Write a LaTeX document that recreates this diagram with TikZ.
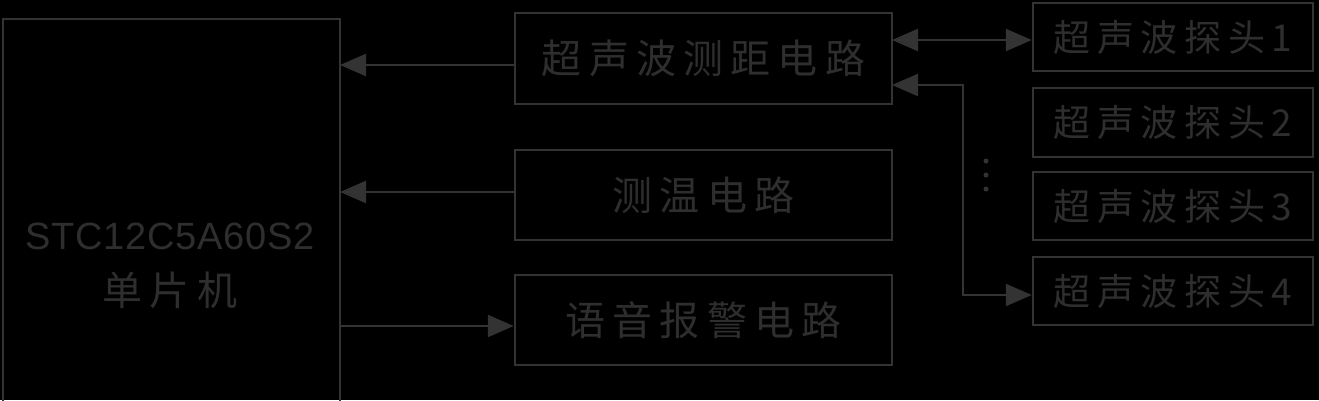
\documentclass[tikz,border=0pt]{standalone}
\usepackage{fontspec}
\newfontfamily\cjk[LetterSpace=18]{Noto Sans CJK SC}
\newfontfamily\lat{Liberation Sans}
\usetikzlibrary{arrows.meta}
\definecolor{ln}{HTML}{333333}
\definecolor{tx}{HTML}{2E2E2E}
\tikzset{box/.style={draw=ln,line width=2.5pt},
 tip/.tip={Triangle[length=26pt,width=22pt]},
 con/.style={draw=ln,line width=2.5pt,-tip},
 lbl/.style={text=tx,font=\cjk\fontsize{40}{42}\selectfont,inner sep=0}}
\begin{document}
\begin{tikzpicture}[x=1pt,y=-1pt]
\fill[black] (0,0) rectangle (1319,400);
\useasboundingbox (0,0) rectangle (1319,400);
\draw[box] (3,420) -- (3,19) -- (340,19) -- (340,420);
\coordinate (mcuR1) at (340,65);
\coordinate (mcuR2) at (340,192);
\coordinate (mcuR3) at (340,326);
\node[text=tx,inner sep=0,font=\lat\fontsize{38}{40}\selectfont\addfontfeature{LetterSpace=2}] (mcu) at (170,236) {STC12C5A60S2};
\node[lbl] (mcu2) at (170,290) {单片机};
\node[box,minimum width=377pt,minimum height=91pt] (us) at (703.5,58.5) {};
\node[lbl] at (us) {超声波测距电路};
\node[box,minimum width=377pt,minimum height=90pt] (tm) at (703.5,195) {};
\node[lbl] at (tm) {测温电路};
\node[box,minimum width=377pt,minimum height=90pt] (vo) at (703.5,320) {};
\node[lbl] at (vo) {语音报警电路};
\foreach \n/\y/\h in {1/37/68,2/122.5/69,3/206/68,4/291/68}{
 \node[box,minimum width=280pt,minimum height=\h pt] (p\n) at (1173,\y) {};
 \node[lbl,font=\cjk\fontsize{37}{40}\selectfont] at (p\n) {超声波探头\n};
}
\draw[con] (us.west |- mcuR1) -- (mcuR1);
\draw[con] (tm.west |- mcuR2) -- (mcuR2);
\draw[con] (mcuR3) -- (vo.west |- mcuR3);
\draw[con,tip-tip] (892,40) -- (p1.west |- 0,40);
\coordinate (k1) at (963,85);
\coordinate (k2) at (963,295);
\draw[con,tip-tip] (892,85) -- (k1) -- (k2) -- (p4.west |- k2);
\foreach \y in {161,175,189} \fill[ln] (986,\y) circle (2.5);
\end{tikzpicture}
\end{document}
